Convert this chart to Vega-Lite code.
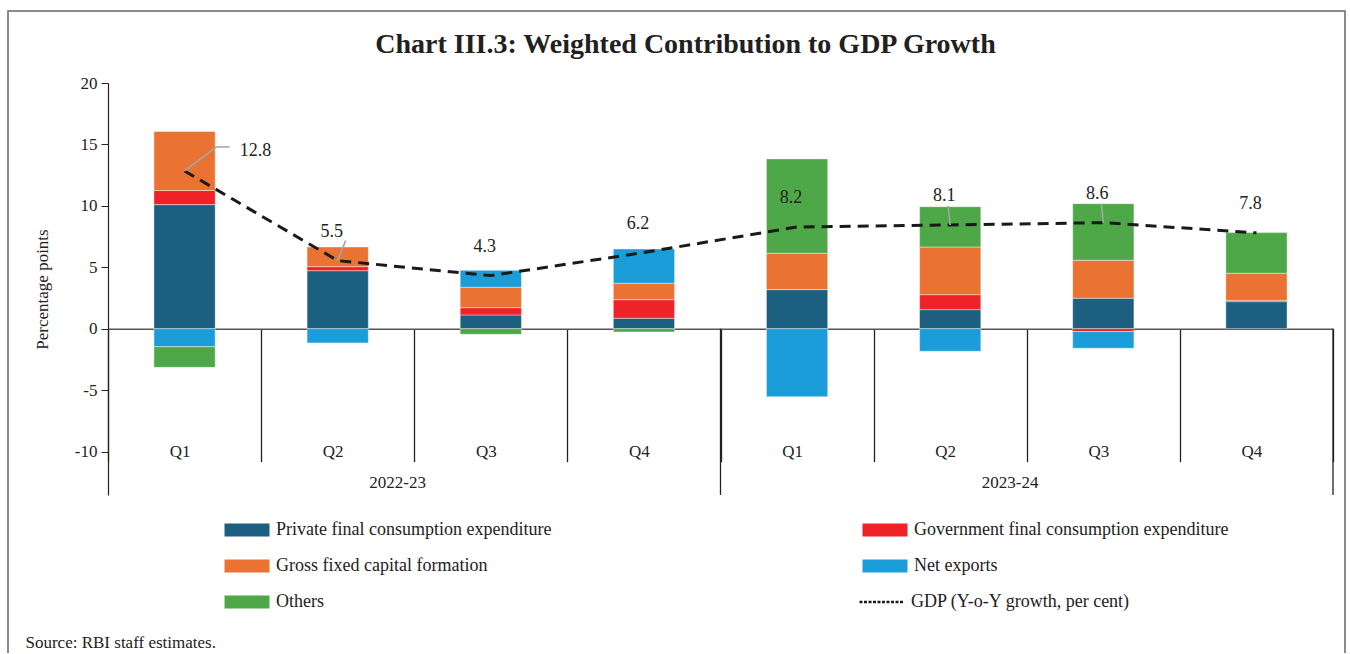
{
  "$schema": "https://vega.github.io/schema/vega-lite/v6.json",
  "autosize": {"type": "none"},
  "width": 1337,
  "height": 650,
  "padding": {"left": 8, "top": 11, "right": 5, "bottom": -8},
  "background": "white",
  "config": {
    "view": {"stroke": "#666666", "strokeWidth": 1.5},
    "font": "Liberation Serif"
  },
  "title": {
    "text": "Chart III.3: Weighted Contribution to GDP Growth",
    "font": "Liberation Serif",
    "fontSize": 28,
    "fontWeight": "bold",
    "color": "#231f20",
    "anchor": "middle",
    "frame": "group",
    "baseline": "alphabetic",
    "offset": 0,
    "dy": 70,
    "dx": 9
  },
  "datasets": {
    "components": [
      {"component": "Private final consumption expenditure", "rank": 1},
      {"component": "Government final consumption expenditure", "rank": 2},
      {"component": "Gross fixed capital formation", "rank": 3},
      {"component": "Net exports", "rank": 4},
      {"component": "Others", "rank": 5}
    ],
    "bars": [
      {"period": "2022-23 Q1", "component": "Private final consumption expenditure", "value": 10.1},
      {"period": "2022-23 Q1", "component": "Government final consumption expenditure", "value": 1.15},
      {"period": "2022-23 Q1", "component": "Gross fixed capital formation", "value": 4.8},
      {"period": "2022-23 Q1", "component": "Net exports", "value": -1.47},
      {"period": "2022-23 Q1", "component": "Others", "value": -1.68},
      {"period": "2022-23 Q2", "component": "Private final consumption expenditure", "value": 4.72},
      {"period": "2022-23 Q2", "component": "Government final consumption expenditure", "value": 0.33},
      {"period": "2022-23 Q2", "component": "Gross fixed capital formation", "value": 1.6},
      {"period": "2022-23 Q2", "component": "Net exports", "value": -1.16},
      {"period": "2022-23 Q3", "component": "Private final consumption expenditure", "value": 1.12},
      {"period": "2022-23 Q3", "component": "Government final consumption expenditure", "value": 0.59},
      {"period": "2022-23 Q3", "component": "Gross fixed capital formation", "value": 1.66},
      {"period": "2022-23 Q3", "component": "Net exports", "value": 1.38},
      {"period": "2022-23 Q3", "component": "Others", "value": -0.46},
      {"period": "2022-23 Q4", "component": "Private final consumption expenditure", "value": 0.85},
      {"period": "2022-23 Q4", "component": "Government final consumption expenditure", "value": 1.51},
      {"period": "2022-23 Q4", "component": "Gross fixed capital formation", "value": 1.34},
      {"period": "2022-23 Q4", "component": "Net exports", "value": 2.79},
      {"period": "2022-23 Q4", "component": "Others", "value": -0.27},
      {"period": "2023-24 Q1", "component": "Private final consumption expenditure", "value": 3.18},
      {"period": "2023-24 Q1", "component": "Gross fixed capital formation", "value": 2.96},
      {"period": "2023-24 Q1", "component": "Net exports", "value": -5.54},
      {"period": "2023-24 Q1", "component": "Others", "value": 7.68},
      {"period": "2023-24 Q2", "component": "Private final consumption expenditure", "value": 1.55},
      {"period": "2023-24 Q2", "component": "Government final consumption expenditure", "value": 1.22},
      {"period": "2023-24 Q2", "component": "Gross fixed capital formation", "value": 3.88},
      {"period": "2023-24 Q2", "component": "Net exports", "value": -1.84},
      {"period": "2023-24 Q2", "component": "Others", "value": 3.28},
      {"period": "2023-24 Q3", "component": "Private final consumption expenditure", "value": 2.48},
      {"period": "2023-24 Q3", "component": "Government final consumption expenditure", "value": -0.24},
      {"period": "2023-24 Q3", "component": "Gross fixed capital formation", "value": 3.09},
      {"period": "2023-24 Q3", "component": "Net exports", "value": -1.35},
      {"period": "2023-24 Q3", "component": "Others", "value": 4.61},
      {"period": "2023-24 Q4", "component": "Private final consumption expenditure", "value": 2.2},
      {"period": "2023-24 Q4", "component": "Government final consumption expenditure", "value": 0.11},
      {"period": "2023-24 Q4", "component": "Gross fixed capital formation", "value": 2.2},
      {"period": "2023-24 Q4", "component": "Others", "value": 3.31}
    ],
    "gdp": [
      {"period": "2022-23 Q1", "year": "2022-23", "quarter": "Q1", "gdp": 12.84, "label": "12.8"},
      {"period": "2022-23 Q2", "year": "2022-23", "quarter": "Q2", "gdp": 5.54, "label": "5.5"},
      {"period": "2022-23 Q3", "year": "2022-23", "quarter": "Q3", "gdp": 4.32, "label": "4.3"},
      {"period": "2022-23 Q4", "year": "2022-23", "quarter": "Q4", "gdp": 6.2, "label": "6.2"},
      {"period": "2023-24 Q1", "year": "2023-24", "quarter": "Q1", "gdp": 8.28, "label": "8.2"},
      {"period": "2023-24 Q2", "year": "2023-24", "quarter": "Q2", "gdp": 8.44, "label": "8.1"},
      {"period": "2023-24 Q3", "year": "2023-24", "quarter": "Q3", "gdp": 8.63, "label": "8.6"},
      {"period": "2023-24 Q4", "year": "2023-24", "quarter": "Q4", "gdp": 7.8, "label": "7.8"}
    ]
  },
  "layer": [
    {
      "data": {"name": "bars"},
      "transform": [
        {"lookup": "component", "from": {"data": {"name": "components"}, "key": "component", "fields": ["rank"]}}
      ],
      "mark": {"type": "bar", "width": {"band": 0.4}, "stroke": "#ffffff", "strokeWidth": 0.6, "strokeOpacity": 0.7},
      "encoding": {
        "x": {
          "field": "period",
          "type": "nominal",
          "scale": {"range": [100, 1325], "paddingInner": 0, "paddingOuter": 0},
          "axis": {
            "title": "Source: RBI staff estimates.",
            "titleX": 17,
            "titleY": 319,
            "titleAlign": "left",
            "titleAnchor": "start",
            "titleBaseline": "alphabetic",
            "titleFont": "Liberation Serif",
            "titleFontSize": 17,
            "titleFontWeight": "normal",
            "titleColor": "#222222",
            "offset": -332.3,
            "domainColor": "#555555",
            "domainWidth": 1.5,
            "ticks": true,
            "tickBand": "extent",
            "tickSize": 133,
            "tickColor": "#222222",
            "tickWidth": 1.3,
            "labelExpr": "datum.value ? substring(datum.value, 8) : ''",
            "labelFont": "Liberation Serif",
            "labelFontSize": 17,
            "labelColor": "#222222",
            "labelBaseline": "middle",
            "labelPadding": -10,
            "labelOffset": -5,
            "labelAngle": 0,
            "grid": false
          }
        },
        "y": {
          "field": "value",
          "type": "quantitative",
          "stack": "zero",
          "scale": {"domain": [-13.54, 20], "range": [484, 72], "nice": false, "zero": false},
          "axis": {
            "title": "Percentage points",
            "offset": -100,
            "values": [-10, -5, 0, 5, 10, 15, 20],
            "labelExpr": "replace(datum.label, '−', '-')",
            "grid": false,
            "domainColor": "#222222",
            "domainWidth": 1.2,
            "tickColor": "#222222",
            "tickSize": 7,
            "labelPadding": 4,
            "labelFont": "Liberation Serif",
            "labelFontSize": 17,
            "labelColor": "#222222",
            "titleFont": "Liberation Serif",
            "titleFontSize": 17,
            "titleFontWeight": "normal",
            "titleColor": "#222222",
            "titleX": -66,
            "titleY": 278,
            "titleBaseline": "middle"
          }
        },
        "order": {"field": "rank", "type": "quantitative", "sort": "ascending"},
        "color": {
          "field": "component",
          "type": "nominal",
          "scale": {
            "domain": ["Private final consumption expenditure", "Gross fixed capital formation", "Others", "Government final consumption expenditure", "Net exports"],
            "range": ["#1c5f80", "#ea7232", "#4ea848", "#ee2227", "#1b9dd9"]
          },
          "legend": {
            "title": null,
            "orient": "none",
            "legendX": 230,
            "legendY": 510,
            "columns": 2,
            "columnPadding": 310,
            "rowPadding": 18,
            "symbolSize": 169,
            "symbolType": "M-3.46,-1H3.46V1H-3.46Z",
            "symbolStrokeWidth": 0,
            "labelOffset": 20,
            "labelFont": "Liberation Serif",
            "labelFontSize": 18,
            "labelColor": "#222222",
            "labelLimit": 600
          }
        }
      }
    },
    {
      "data": {"name": "gdp"},
      "mark": {"type": "line", "strokeDash": [11, 7], "strokeWidth": 3, "color": "#1a1a1a"},
      "encoding": {
        "x": {"field": "period", "type": "nominal"},
        "y": {"field": "gdp", "type": "quantitative"}
      }
    },
    {
      "data": {"name": "gdp"},
      "transform": [{"filter": "false"}],
      "mark": {"type": "rule", "color": "#1a1a1a", "strokeWidth": 2.5},
      "encoding": {
        "y": {"field": "gdp", "type": "quantitative"},
        "strokeDash": {
          "datum": "GDP (Y-o-Y growth, per cent)",
          "type": "nominal",
          "scale": {"domain": ["GDP (Y-o-Y growth, per cent)"], "range": [[3, 1.5]]},
          "legend": {
            "title": null,
            "orient": "none",
            "legendX": 865,
            "legendY": 582,
            "symbolSize": 169,
            "symbolType": "M-3.46,0H3.46",
            "symbolStrokeColor": "#1a1a1a",
            "symbolStrokeWidth": 2.5,
            "labelOffset": 20,
            "labelFont": "Liberation Serif",
            "labelFontSize": 18,
            "labelColor": "#222222",
            "labelLimit": 600
          }
        }
      }
    },
    {
      "data": {"name": "gdp"},
      "transform": [{"filter": "datum.period == '2023-24 Q1'"}],
      "mark": {"type": "rule", "color": "#222222", "strokeWidth": 1.3},
      "encoding": {
        "x": {"field": "period", "type": "nominal", "bandPosition": 0},
        "y": {"datum": 0},
        "y2": {"datum": -13.54}
      }
    },
    {
      "data": {"name": "gdp"},
      "transform": [{"filter": "datum.period == '2023-24 Q4'"}],
      "mark": {"type": "rule", "color": "#222222", "strokeWidth": 1.3},
      "encoding": {
        "x": {"field": "period", "type": "nominal", "bandPosition": 1},
        "y": {"datum": 0},
        "y2": {"datum": -13.54}
      }
    },
    {
      "data": {"name": "gdp"},
      "transform": [{"filter": "datum.label == '12.8'"}],
      "mark": {"type": "rule", "color": "#a6a6a6", "strokeWidth": 1.6, "x2Offset": 32, "y2Offset": -24},
      "encoding": {
        "x": {"field": "period", "type": "nominal", "bandPosition": 0.5},
        "x2": {"field": "period", "bandPosition": 0.5},
        "y": {"field": "gdp", "type": "quantitative"},
        "y2": {"field": "gdp"}
      }
    },
    {
      "data": {"name": "gdp"},
      "transform": [{"filter": "datum.label == '12.8'"}],
      "mark": {"type": "rule", "color": "#a6a6a6", "strokeWidth": 1.6, "xOffset": 32, "yOffset": -24, "x2Offset": 45, "y2Offset": -24},
      "encoding": {
        "x": {"field": "period", "type": "nominal", "bandPosition": 0.5},
        "x2": {"field": "period", "bandPosition": 0.5},
        "y": {"field": "gdp", "type": "quantitative"},
        "y2": {"field": "gdp"}
      }
    },
    {
      "data": {"name": "gdp"},
      "transform": [{"filter": "datum.label == '5.5'"}],
      "mark": {"type": "rule", "color": "#a6a6a6", "strokeWidth": 1.6, "x2Offset": 8, "y2Offset": -20},
      "encoding": {
        "x": {"field": "period", "type": "nominal", "bandPosition": 0.5},
        "x2": {"field": "period", "bandPosition": 0.5},
        "y": {"field": "gdp", "type": "quantitative"},
        "y2": {"field": "gdp"}
      }
    },
    {
      "data": {"name": "gdp"},
      "transform": [{"filter": "datum.label == '8.1' || datum.label == '8.6'"}],
      "mark": {"type": "rule", "color": "#a6a6a6", "strokeWidth": 1.6, "x2Offset": -2, "y2Offset": -19},
      "encoding": {
        "x": {"field": "period", "type": "nominal", "bandPosition": 0.5},
        "x2": {"field": "period", "bandPosition": 0.5},
        "y": {"field": "gdp", "type": "quantitative"},
        "y2": {"field": "gdp"}
      }
    },
    {
      "data": {"name": "gdp"},
      "transform": [{"filter": "datum.label != '12.8'"}],
      "mark": {"type": "text", "dx": -6, "dy": -29, "font": "Liberation Serif", "fontSize": 18, "color": "#222222", "baseline": "middle"},
      "encoding": {
        "x": {"field": "period", "type": "nominal"},
        "y": {"field": "gdp", "type": "quantitative"},
        "text": {"field": "label"}
      }
    },
    {
      "data": {"name": "gdp"},
      "transform": [{"filter": "datum.label == '12.8'"}],
      "mark": {"type": "text", "dx": 71, "dy": -20, "font": "Liberation Serif", "fontSize": 18, "color": "#222222", "baseline": "middle"},
      "encoding": {
        "x": {"field": "period", "type": "nominal"},
        "y": {"field": "gdp", "type": "quantitative"},
        "text": {"field": "label"}
      }
    },
    {
      "data": {"name": "gdp"},
      "transform": [{"filter": "datum.quarter == 'Q2'"}],
      "mark": {"type": "text", "dx": 60, "font": "Liberation Serif", "fontSize": 17, "color": "#222222", "baseline": "middle"},
      "encoding": {
        "x": {"field": "period", "type": "nominal"},
        "y": {"datum": -12.57},
        "text": {"field": "year"}
      }
    }
  ]
}
